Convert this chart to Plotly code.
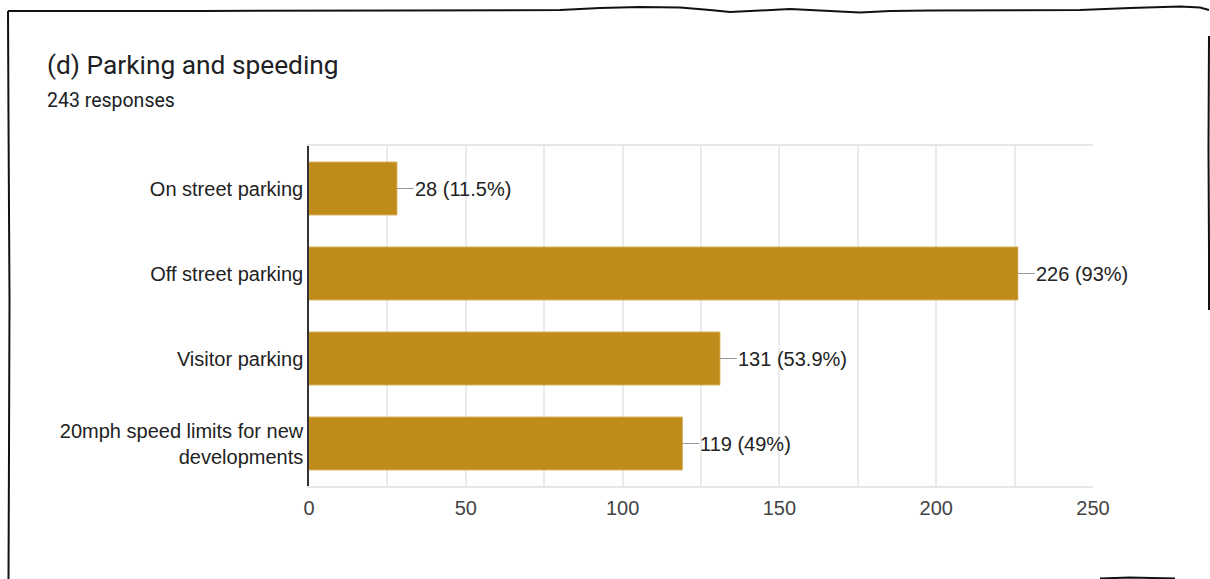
import plotly.graph_objects as go

# Survey question results
categories = [
    "On street parking",
    "Off street parking",
    "Visitor parking",
    "20mph speed limits for new<br>developments",
]
counts = [28, 226, 131, 119]
percent_labels = ["11.5%", "93%", "53.9%", "49%"]
total_responses = 243
x_ticks = [0, 50, 100, 150, 200, 250]

W, H = 1210, 579
L, R, T, B = 309, 1093, 146, 486  # plot-area edges in pixels

BAR = "#BF8B1B"
LABEL_FONT = "Arial, Liberation Sans, sans-serif"

fig = go.Figure(
    go.Bar(
        x=counts,
        y=categories,
        orientation="h",
        marker=dict(color=BAR, line=dict(color="#C9992F", width=1)),
        hoverinfo="skip",
    )
)

# value labels with a short leader line
for cat, n, pct in zip(categories, counts, percent_labels):
    fig.add_annotation(
        x=n, y=cat, xref="x", yref="y",
        text=f"{n} ({pct})",
        showarrow=True, arrowhead=0, arrowwidth=1.2, arrowcolor="#9a9a9a",
        ax=17, ay=0, xanchor="left", standoff=0, borderpad=0,
        font=dict(family=LABEL_FONT, size=20, color="#222222"),
    )


def px(x):
    return (x - L) / (R - L)


def py(y):
    return (B - y) / (B - T)


def path(points):
    d = "M " + " L ".join(f"{px(x):.5f},{py(y):.5f}" for x, y in points)
    return d


# sketchy outer frame
frame_paths = [
    [(8, 11), (200, 11), (400, 10.5), (560, 10), (600, 8), (640, 7), (680, 7.5),
     (710, 10), (730, 12), (760, 10.5), (790, 9), (820, 10.5), (860, 12.5),
     (890, 11), (930, 10.5), (1080, 10), (1130, 8), (1180, 6.5), (1200, 7.5), (1209, 10)],
    [(8, 11), (8.5, 120), (9.5, 300), (9, 450), (8.5, 579)],
    [(1209, 36), (1208.5, 150), (1209, 250), (1209, 310)],
    [(1100, 578.5), (1130, 577.5), (1175, 578.5)],
]
for pts in frame_paths:
    fig.add_shape(
        type="path", path=path(pts), xref="paper", yref="paper",
        line=dict(color="#111111", width=2), layer="above",
    )

fig.add_annotation(
    text="(d) Parking and speeding", xref="paper", yref="paper",
    x=px(45), y=py(65), xanchor="left", yanchor="middle", showarrow=False,
    font=dict(family="Roboto, sans-serif", size=26.3, color="#202124"),
)
fig.add_annotation(
    text=f"{total_responses} responses", xref="paper", yref="paper",
    x=px(45), y=py(100), xanchor="left", yanchor="middle", showarrow=False,
    font=dict(family="Roboto, sans-serif", size=19.5, color="#202124"),
)

fig.update_layout(
    width=W, height=H,
    margin=dict(l=L, r=W - R, t=T, b=H - B, pad=0),
    paper_bgcolor="white", plot_bgcolor="white",
    showlegend=False,
    bargap=0.38,
    xaxis=dict(
        range=[0, 250], tickvals=x_ticks, ticks="",
        showgrid=True, gridcolor="#ebebeb", gridwidth=1.5,
        minor=dict(dtick=25, showgrid=True, gridcolor="#ebebeb", gridwidth=1.5),
        showline=True, linecolor="#e6e6e6", linewidth=2, mirror=True,
        zeroline=False, ticklabelstandoff=3,
        tickfont=dict(family=LABEL_FONT, size=20, color="#444444"),
        fixedrange=True,
    ),
    yaxis=dict(
        autorange="reversed", showgrid=False, zeroline=False,
        showline=True, linecolor="#333333", linewidth=1.5,
        ticks="", ticklabelstandoff=0,
        tickfont=dict(family=LABEL_FONT, size=20, color="#222222"),
        fixedrange=True,
    ),
)

fig.write_html("out.html")
